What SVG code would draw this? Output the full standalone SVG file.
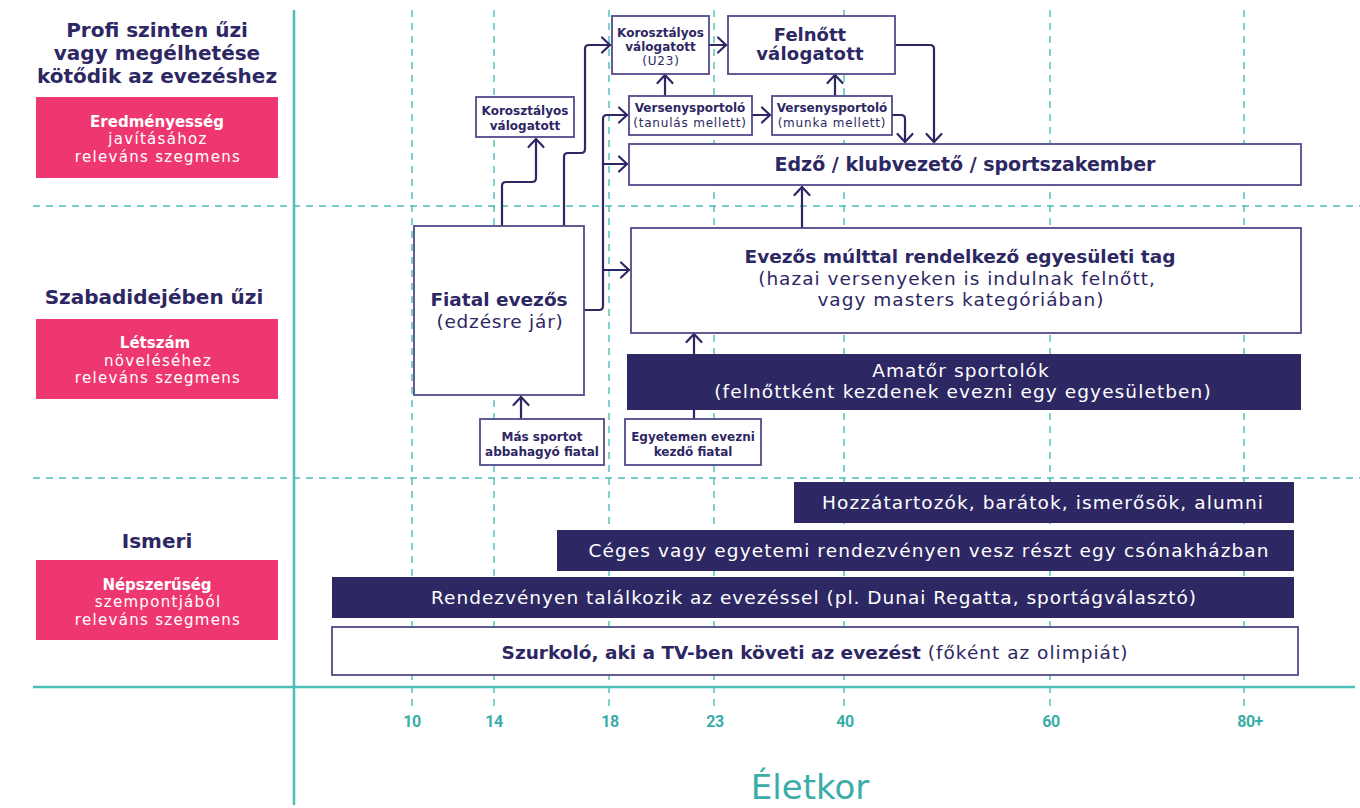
<svg xmlns="http://www.w3.org/2000/svg" width="1360" height="808" viewBox="0 0 1360 808">
<defs>
<style>
.grid{stroke:#4DBDB8;stroke-width:1.4;stroke-dasharray:7 6;fill:none}
.axis{stroke:#4DBDB8;stroke-width:2.5;fill:none}
.box{fill:#fff;stroke:#514A8A;stroke-width:1.8}
.bar{fill:#2D2763}
.pink{fill:#EE3770}
.conn path{fill:none;stroke:#2D2763;stroke-width:2.2;stroke-linejoin:round;stroke-linecap:round}
text{font-family:"DejaVu Sans",sans-serif;text-anchor:middle}
.b{font-weight:bold;fill:#2D2763}
.r{fill:#2D2763}
.wb{font-weight:bold;fill:#fff}
.w{fill:#fff}
.ax{font-family:Roboto,sans-serif;font-weight:bold;fill:#3AADA8;font-size:16px;letter-spacing:-0.5px}
</style>
<marker id="arr" markerUnits="userSpaceOnUse" markerWidth="20" markerHeight="20" viewBox="-10 -10 20 20" refX="0" refY="0" orient="auto">
<path d="M-8,-7.5 L0,0 L-8,7.5" fill="none" stroke="#2D2763" stroke-width="2.2" stroke-linecap="round" stroke-linejoin="round"/>
</marker>
</defs>
<rect width="1360" height="808" fill="#fff"/>

<g id="grid">
<line class="grid" x1="33" y1="206" x2="1360" y2="206"/>
<line class="grid" x1="33" y1="478" x2="1360" y2="478"/>
<line class="grid" x1="412" y1="10" x2="412" y2="710"/>
<line class="grid" x1="494" y1="10" x2="494" y2="710"/>
<line class="grid" x1="609" y1="10" x2="609" y2="710"/>
<line class="grid" x1="714" y1="10" x2="714" y2="710"/>
<line class="grid" x1="844" y1="10" x2="844" y2="710"/>
<line class="grid" x1="1050" y1="10" x2="1050" y2="710"/>
<line class="grid" x1="1244" y1="10" x2="1244" y2="710"/>
<line class="axis" x1="294" y1="10" x2="294" y2="805"/>
<line class="axis" x1="33" y1="687" x2="1355" y2="687"/>
</g>

<g id="axis-labels">
<text class="ax" x="412" y="727">10</text>
<text class="ax" x="494" y="727">14</text>
<text class="ax" x="610" y="727">18</text>
<text class="ax" x="715" y="727">23</text>
<text class="ax" x="845" y="727">40</text>
<text class="ax" x="1051" y="727">60</text>
<text class="ax" x="1250" y="727">80+</text>
<text x="810" y="799" font-family="Roboto,sans-serif" font-size="34" fill="#3AADA8">Életkor</text>
</g>

<g id="level-profi">
<text class="b" font-size="20" x="157" y="37">Profi szinten űzi</text>
<text class="b" font-size="20" x="157" y="60">vagy megélhetése</text>
<text class="b" font-size="20" x="157" y="83">kötődik az evezéshez</text>
<rect class="pink" x="36" y="97" width="242" height="81"/>
<text class="wb" font-size="15" x="157" y="127">Eredményesség</text>
<text class="w" font-size="15" letter-spacing="1.3" x="158" y="144">javításához</text>
<text class="w" font-size="15" letter-spacing="1.3" x="158" y="162">releváns szegmens</text>
</g>

<g id="level-szabadido">
<text class="b" font-size="20" x="154" y="304">Szabadidejében űzi</text>
<rect class="pink" x="36" y="319" width="242" height="80"/>
<text class="wb" font-size="15" x="155" y="348">Létszám</text>
<text class="w" font-size="15" letter-spacing="1.3" x="158" y="366">növeléséhez</text>
<text class="w" font-size="15" letter-spacing="1.3" x="158" y="383">releváns szegmens</text>
</g>

<g id="level-ismeri">
<text class="b" font-size="20" x="157" y="548">Ismeri</text>
<rect class="pink" x="36" y="560" width="242" height="80"/>
<text class="wb" font-size="15" x="157" y="590">Népszerűség</text>
<text class="w" font-size="15" letter-spacing="1.3" x="158" y="607">szempontjából</text>
<text class="w" font-size="15" letter-spacing="1.3" x="158" y="625">releváns szegmens</text>
</g>

<g id="connectors" class="conn">
<path d="M502,225 V186 Q502,182 506,182 H532 Q536,182 536,178 V139" marker-end="url(#arr)"/>
<path d="M564,225 V157 Q564,153 568,153 H581 Q585,153 585,149 V49 Q585,45 589,45 H610" marker-end="url(#arr)"/>
<path d="M584,310 H599 Q603,310 603,306 V119 Q603,115 607,115 H627" marker-end="url(#arr)"/>
<path d="M603,164 H627" marker-end="url(#arr)"/>
<path d="M603,270 H629" marker-end="url(#arr)"/>
<path d="M665,96 V75" marker-end="url(#arr)"/>
<path d="M752,115 H770" marker-end="url(#arr)"/>
<path d="M835,96 V75" marker-end="url(#arr)"/>
<path d="M709,45 H726" marker-end="url(#arr)"/>
<path d="M892,115 H901 Q905,115 905,119 V142" marker-end="url(#arr)"/>
<path d="M895,45 H930 Q934,45 934,49 V142" marker-end="url(#arr)"/>
<path d="M802,228 V187" marker-end="url(#arr)"/>
<path d="M694,419 V334" marker-end="url(#arr)"/>
<path d="M521,419 V397" marker-end="url(#arr)"/>
</g>

<g id="node-u23">
<rect class="box" x="612" y="16" width="97" height="58"/>
<text class="b" font-size="12" x="660.5" y="37">Korosztályos</text>
<text class="b" font-size="12" x="660.5" y="51">válogatott</text>
<text class="r" font-size="12" letter-spacing="0.8" x="661" y="65">(U23)</text>
</g>

<g id="node-felnott">
<rect class="box" x="728" y="16" width="167" height="58"/>
<text class="b" font-size="18" x="810" y="41">Felnőtt</text>
<text class="b" font-size="18" letter-spacing="0.2" x="810" y="60">válogatott</text>
</g>

<g id="node-korosztalyos">
<rect class="box" x="476" y="97" width="98" height="40"/>
<text class="b" font-size="12" x="525" y="115">Korosztályos</text>
<text class="b" font-size="12" x="525" y="130">válogatott</text>
</g>

<g id="node-vers-tanulas">
<rect class="box" x="629" y="96" width="123" height="39"/>
<text class="b" font-size="12" x="690" y="112">Versenysportoló</text>
<text class="r" font-size="12" letter-spacing="0.8" x="690" y="127">(tanulás mellett)</text>
</g>

<g id="node-vers-munka">
<rect class="box" x="772" y="96" width="120" height="39"/>
<text class="b" font-size="12" x="832" y="112">Versenysportoló</text>
<text class="r" font-size="12" letter-spacing="0.8" x="832" y="127">(munka mellett)</text>
</g>

<g id="node-edzo">
<rect class="box" x="629" y="144" width="672" height="41"/>
<text class="b" font-size="19" x="965" y="171">Edző / klubvezető / sportszakember</text>
</g>

<g id="node-fiatal">
<rect class="box" x="414" y="226" width="170" height="169"/>
<text class="b" font-size="18.5" x="499" y="306">Fiatal evezős</text>
<text class="r" font-size="18.5" letter-spacing="0.8" x="500" y="328">(edzésre jár)</text>
</g>

<g id="node-evezos">
<rect class="box" x="631" y="228" width="670" height="105"/>
<text class="b" font-size="18.5" x="960" y="263">Evezős múlttal rendelkező egyesületi tag</text>
<text class="r" font-size="18.5" letter-spacing="1" x="957" y="285">(hazai versenyeken is indulnak felnőtt,</text>
<text class="r" font-size="18.5" letter-spacing="1" x="961" y="306">vagy masters kategóriában)</text>
</g>

<g id="node-amator">
<rect class="bar" x="627" y="354" width="674" height="56"/>
<text class="w" font-size="18.5" letter-spacing="1.1" x="961" y="377">Amatőr sportolók</text>
<text class="w" font-size="18.5" letter-spacing="1.1" x="963" y="398">(felnőttként kezdenek evezni egy egyesületben)</text>
</g>

<g id="node-mas-sport">
<rect class="box" x="480" y="419" width="124" height="46"/>
<text class="b" font-size="12" x="542" y="441">Más sportot</text>
<text class="b" font-size="12" x="542" y="456">abbahagyó fiatal</text>
</g>

<g id="node-egyetem">
<rect class="box" x="625" y="419" width="136" height="46"/>
<text class="b" font-size="12" x="693" y="441">Egyetemen evezni</text>
<text class="b" font-size="12" x="693" y="456">kezdő fiatal</text>
</g>

<g id="node-hozzatartozok">
<rect class="bar" x="794" y="482" width="500" height="41"/>
<text class="w" font-size="18.5" letter-spacing="1.1" x="1043" y="509">Hozzátartozók, barátok, ismerősök, alumni</text>
</g>

<g id="node-ceges">
<rect class="bar" x="557" y="530" width="737" height="41"/>
<text class="w" font-size="18.5" letter-spacing="1.1" x="929" y="557">Céges vagy egyetemi rendezvényen vesz részt egy csónakházban</text>
</g>

<g id="node-rendezveny">
<rect class="bar" x="332" y="577" width="962" height="41"/>
<text class="w" font-size="18.5" letter-spacing="1" x="814" y="604">Rendezvényen találkozik az evezéssel (pl. Dunai Regatta, sportágválasztó)</text>
</g>

<g id="node-szurkolo">
<rect class="box" x="332" y="627" width="966" height="48"/>
<text font-size="18.5" x="815" y="659"><tspan class="b">Szurkoló, aki a TV-ben követi az evezést</tspan><tspan class="r" letter-spacing="1"> (főként az olimpiát)</tspan></text>
</g>
</svg>
